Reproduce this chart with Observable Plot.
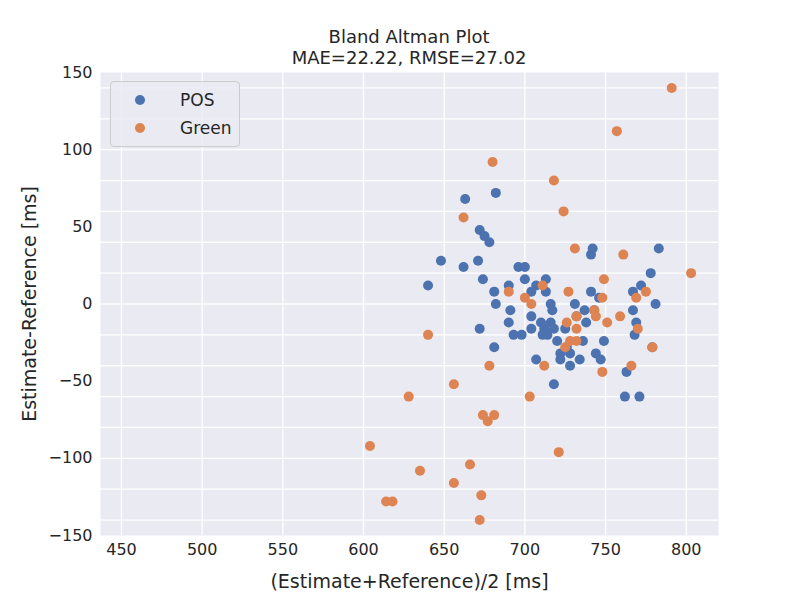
<!DOCTYPE html>
<html><head><meta charset="utf-8">
<script src="https://cdn.jsdelivr.net/npm/d3@7"></script>
<script src="https://cdn.jsdelivr.net/npm/@observablehq/plot@0.6"></script>
<style>
body{margin:0;background:#fff;font-family:"DejaVu Sans",sans-serif}
#wrap{position:relative;width:800px;height:600px}
#title{position:absolute;left:100px;width:618px;top:26px;text-align:center;font-size:18px;line-height:21px;color:#262626}
#legend{position:absolute;left:110px;top:81px;width:128px;height:64px;border:1px solid #ccc;border-radius:4px;background:rgba(234,234,242,0.8);font-size:17px;color:#262626}
#legend div{position:absolute;left:24px;display:flex;align-items:center}
#legend span{display:inline-block;width:10px;height:10px;border-radius:50%;margin-right:35px}
</style></head>
<body><div id="wrap"><div id="title">Bland Altman Plot<br>MAE=22.22, RMSE=27.02</div>
<div id="legend"><div style="top:8px"><span style="background:#4C72B0"></span>POS</div><div style="top:36px"><span style="background:#DD8452"></span>Green</div></div>
<div id="chart"></div></div>
<script>
const posMean = [640,648,663,682,672,675,671,662,674,678,681,682,672,681,690,690,691,693,696,700,700,698,704,707,704,704,707,710,712,713,713,711,714,716,717,716,718,718,720,722,722,725,726,728,728,731,732,734,736,737,738,741,742,741,743,744,747,746,749,778,781,783,779,769,767,768,767,772,762,771,763];
const posDiff = [12,28,68,72,48,44,28,24,16,40,8,0,-16,-28,12,-12,-4,-20,24,24,16,-20,8,12,-8,-16,-36,-12,-16,16,8,-20,-20,0,-4,-12,-52,-16,-24,-32,-36,-16,-28,-32,-40,0,-8,-36,-24,-4,-12,32,36,8,-4,-32,-36,4,-24,20,0,36,-28,-12,8,-20,-4,12,-60,-60,-44];
const greenMean = [791,757,680,718,724,662,731,803,761,749,748,727,711,690,700,704,732,726,743,744,732,751,775,769,770,759,748,766,779,725,728,732,712,678,703,640,656,628,604,635,614,618,656,666,674,681,677,673,672,721];
const greenDiff = [140,112,92,80,60,56,36,20,32,16,4,8,12,8,4,0,-8,-12,-4,-8,-16,-12,8,4,-16,-8,-44,-40,-28,-28,-24,-24,-40,-40,-60,-20,-52,-60,-92,-108,-128,-128,-116,-104,-72,-72,-76,-124,-140,-96];

const rows = [
  ...posMean.map((m, i) => ({mean: m, diff: posDiff[i], method: "POS"})),
  ...greenMean.map((m, i) => ({mean: m, diff: greenDiff[i], method: "Green"}))
];

const chart = Plot.plot({
  width: 800, height: 600,
  marginTop: 72, marginBottom: 65, marginLeft: 100, marginRight: 82,
  style: {fontFamily: "DejaVu Sans, sans-serif", fontSize: "16px", color: "#262626"},
  x: {domain: [437, 820], ticks: d3.range(450, 801, 50), tickSize: 0, tickPadding: 8,
      label: "(Estimate+Reference)/2 [ms]", labelAnchor: "center", labelArrow: "none", labelOffset: 52},
  y: {domain: [-150, 150], ticks: d3.range(-150, 151, 50), tickSize: 0, tickPadding: 8,
      label: "Estimate-Reference [ms]", labelAnchor: "center", labelArrow: "none", labelOffset: 78},
  color: {domain: ["POS", "Green"], range: ["#4C72B0", "#DD8452"]},
  marks: [
    Plot.frame({fill: "#EAEAF2", stroke: null}),
    Plot.gridX({stroke: "#fff", strokeOpacity: 1, strokeWidth: 1.3}),
    Plot.gridY({stroke: "#fff", strokeOpacity: 1, strokeWidth: 1.3}),
    Plot.dot(rows, {x: "mean", y: "diff", fill: "method", r: 5})
  ]
});
chart.querySelectorAll("[aria-label='x-axis label'] text, [aria-label='y-axis label'] text").forEach(t => t.style.fontSize = "19px");
d3.select("#chart").append(() => chart);
</script></body></html>
